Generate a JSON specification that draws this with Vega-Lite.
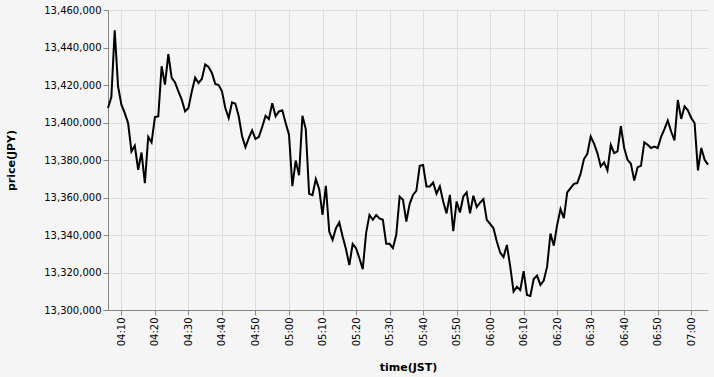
{
  "$schema": "https://vega.github.io/schema/vega-lite/v6.json",
  "width": 600,
  "height": 300,
  "background": "#f5f5f5",
  "padding": {"left": 5, "top": 5, "right": 7, "bottom": 5},
  "config": {"view": {"stroke": null}, "font": "DejaVu Sans"},
  "data": {"values": [
    {"t": "2024-01-01T04:06:00", "price": 13407750},
    {"t": "2024-01-01T04:07:00", "price": 13413600},
    {"t": "2024-01-01T04:08:00", "price": 13449200},
    {"t": "2024-01-01T04:09:00", "price": 13419300},
    {"t": "2024-01-01T04:10:00", "price": 13409500},
    {"t": "2024-01-01T04:11:00", "price": 13405000},
    {"t": "2024-01-01T04:12:00", "price": 13399700},
    {"t": "2024-01-01T04:13:00", "price": 13384600},
    {"t": "2024-01-01T04:14:00", "price": 13387600},
    {"t": "2024-01-01T04:15:00", "price": 13374800},
    {"t": "2024-01-01T04:16:00", "price": 13384000},
    {"t": "2024-01-01T04:17:00", "price": 13367700},
    {"t": "2024-01-01T04:18:00", "price": 13392300},
    {"t": "2024-01-01T04:19:00", "price": 13389400},
    {"t": "2024-01-01T04:20:00", "price": 13402900},
    {"t": "2024-01-01T04:21:00", "price": 13403300},
    {"t": "2024-01-01T04:22:00", "price": 13430000},
    {"t": "2024-01-01T04:23:00", "price": 13420200},
    {"t": "2024-01-01T04:24:00", "price": 13436500},
    {"t": "2024-01-01T04:25:00", "price": 13423800},
    {"t": "2024-01-01T04:26:00", "price": 13421400},
    {"t": "2024-01-01T04:27:00", "price": 13416600},
    {"t": "2024-01-01T04:28:00", "price": 13412200},
    {"t": "2024-01-01T04:29:00", "price": 13405900},
    {"t": "2024-01-01T04:30:00", "price": 13407700},
    {"t": "2024-01-01T04:31:00", "price": 13416500},
    {"t": "2024-01-01T04:32:00", "price": 13424000},
    {"t": "2024-01-01T04:33:00", "price": 13421100},
    {"t": "2024-01-01T04:34:00", "price": 13423200},
    {"t": "2024-01-01T04:35:00", "price": 13430900},
    {"t": "2024-01-01T04:36:00", "price": 13429600},
    {"t": "2024-01-01T04:37:00", "price": 13426400},
    {"t": "2024-01-01T04:38:00", "price": 13420600},
    {"t": "2024-01-01T04:39:00", "price": 13420000},
    {"t": "2024-01-01T04:40:00", "price": 13416600},
    {"t": "2024-01-01T04:41:00", "price": 13407700},
    {"t": "2024-01-01T04:42:00", "price": 13402400},
    {"t": "2024-01-01T04:43:00", "price": 13410700},
    {"t": "2024-01-01T04:44:00", "price": 13410000},
    {"t": "2024-01-01T04:45:00", "price": 13403300},
    {"t": "2024-01-01T04:46:00", "price": 13392600},
    {"t": "2024-01-01T04:47:00", "price": 13386900},
    {"t": "2024-01-01T04:48:00", "price": 13391700},
    {"t": "2024-01-01T04:49:00", "price": 13395800},
    {"t": "2024-01-01T04:50:00", "price": 13391200},
    {"t": "2024-01-01T04:51:00", "price": 13392300},
    {"t": "2024-01-01T04:52:00", "price": 13397600},
    {"t": "2024-01-01T04:53:00", "price": 13403600},
    {"t": "2024-01-01T04:54:00", "price": 13401900},
    {"t": "2024-01-01T04:55:00", "price": 13410300},
    {"t": "2024-01-01T04:56:00", "price": 13403300},
    {"t": "2024-01-01T04:57:00", "price": 13405900},
    {"t": "2024-01-01T04:58:00", "price": 13406500},
    {"t": "2024-01-01T04:59:00", "price": 13399700},
    {"t": "2024-01-01T05:00:00", "price": 13393500},
    {"t": "2024-01-01T05:01:00", "price": 13366100},
    {"t": "2024-01-01T05:02:00", "price": 13379700},
    {"t": "2024-01-01T05:03:00", "price": 13371900},
    {"t": "2024-01-01T05:04:00", "price": 13403600},
    {"t": "2024-01-01T05:05:00", "price": 13396500},
    {"t": "2024-01-01T05:06:00", "price": 13362000},
    {"t": "2024-01-01T05:07:00", "price": 13361300},
    {"t": "2024-01-01T05:08:00", "price": 13369800},
    {"t": "2024-01-01T05:09:00", "price": 13364500},
    {"t": "2024-01-01T05:10:00", "price": 13350700},
    {"t": "2024-01-01T05:11:00", "price": 13366200},
    {"t": "2024-01-01T05:12:00", "price": 13341800},
    {"t": "2024-01-01T05:13:00", "price": 13337400},
    {"t": "2024-01-01T05:14:00", "price": 13343600},
    {"t": "2024-01-01T05:15:00", "price": 13346700},
    {"t": "2024-01-01T05:16:00", "price": 13339200},
    {"t": "2024-01-01T05:17:00", "price": 13332400},
    {"t": "2024-01-01T05:18:00", "price": 13324000},
    {"t": "2024-01-01T05:19:00", "price": 13335300},
    {"t": "2024-01-01T05:20:00", "price": 13333000},
    {"t": "2024-01-01T05:21:00", "price": 13327600},
    {"t": "2024-01-01T05:22:00", "price": 13321800},
    {"t": "2024-01-01T05:23:00", "price": 13341000},
    {"t": "2024-01-01T05:24:00", "price": 13350700},
    {"t": "2024-01-01T05:25:00", "price": 13348100},
    {"t": "2024-01-01T05:26:00", "price": 13350600},
    {"t": "2024-01-01T05:27:00", "price": 13348800},
    {"t": "2024-01-01T05:28:00", "price": 13348100},
    {"t": "2024-01-01T05:29:00", "price": 13335300},
    {"t": "2024-01-01T05:30:00", "price": 13335300},
    {"t": "2024-01-01T05:31:00", "price": 13333000},
    {"t": "2024-01-01T05:32:00", "price": 13340100},
    {"t": "2024-01-01T05:33:00", "price": 13360500},
    {"t": "2024-01-01T05:34:00", "price": 13358800},
    {"t": "2024-01-01T05:35:00", "price": 13347200},
    {"t": "2024-01-01T05:36:00", "price": 13356600},
    {"t": "2024-01-01T05:37:00", "price": 13361400},
    {"t": "2024-01-01T05:38:00", "price": 13363700},
    {"t": "2024-01-01T05:39:00", "price": 13376900},
    {"t": "2024-01-01T05:40:00", "price": 13377300},
    {"t": "2024-01-01T05:41:00", "price": 13365900},
    {"t": "2024-01-01T05:42:00", "price": 13365900},
    {"t": "2024-01-01T05:43:00", "price": 13368000},
    {"t": "2024-01-01T05:44:00", "price": 13362000},
    {"t": "2024-01-01T05:45:00", "price": 13365900},
    {"t": "2024-01-01T05:46:00", "price": 13357900},
    {"t": "2024-01-01T05:47:00", "price": 13351500},
    {"t": "2024-01-01T05:48:00", "price": 13361400},
    {"t": "2024-01-01T05:49:00", "price": 13342000},
    {"t": "2024-01-01T05:50:00", "price": 13357900},
    {"t": "2024-01-01T05:51:00", "price": 13352000},
    {"t": "2024-01-01T05:52:00", "price": 13360500},
    {"t": "2024-01-01T05:53:00", "price": 13362700},
    {"t": "2024-01-01T05:54:00", "price": 13351600},
    {"t": "2024-01-01T05:55:00", "price": 13360900},
    {"t": "2024-01-01T05:56:00", "price": 13354900},
    {"t": "2024-01-01T05:57:00", "price": 13357300},
    {"t": "2024-01-01T05:58:00", "price": 13359100},
    {"t": "2024-01-01T05:59:00", "price": 13348100},
    {"t": "2024-01-01T06:00:00", "price": 13345900},
    {"t": "2024-01-01T06:01:00", "price": 13343600},
    {"t": "2024-01-01T06:02:00", "price": 13336500},
    {"t": "2024-01-01T06:03:00", "price": 13330600},
    {"t": "2024-01-01T06:04:00", "price": 13328200},
    {"t": "2024-01-01T06:05:00", "price": 13334700},
    {"t": "2024-01-01T06:06:00", "price": 13323100},
    {"t": "2024-01-01T06:07:00", "price": 13309800},
    {"t": "2024-01-01T06:08:00", "price": 13312400},
    {"t": "2024-01-01T06:09:00", "price": 13310700},
    {"t": "2024-01-01T06:10:00", "price": 13320700},
    {"t": "2024-01-01T06:11:00", "price": 13308000},
    {"t": "2024-01-01T06:12:00", "price": 13307500},
    {"t": "2024-01-01T06:13:00", "price": 13316500},
    {"t": "2024-01-01T06:14:00", "price": 13318300},
    {"t": "2024-01-01T06:15:00", "price": 13313400},
    {"t": "2024-01-01T06:16:00", "price": 13315700},
    {"t": "2024-01-01T06:17:00", "price": 13323100},
    {"t": "2024-01-01T06:18:00", "price": 13340800},
    {"t": "2024-01-01T06:19:00", "price": 13334300},
    {"t": "2024-01-01T06:20:00", "price": 13345400},
    {"t": "2024-01-01T06:21:00", "price": 13353800},
    {"t": "2024-01-01T06:22:00", "price": 13349000},
    {"t": "2024-01-01T06:23:00", "price": 13362700},
    {"t": "2024-01-01T06:24:00", "price": 13365000},
    {"t": "2024-01-01T06:25:00", "price": 13367300},
    {"t": "2024-01-01T06:26:00", "price": 13367700},
    {"t": "2024-01-01T06:27:00", "price": 13372700},
    {"t": "2024-01-01T06:28:00", "price": 13380500},
    {"t": "2024-01-01T06:29:00", "price": 13383300},
    {"t": "2024-01-01T06:30:00", "price": 13392500},
    {"t": "2024-01-01T06:31:00", "price": 13388700},
    {"t": "2024-01-01T06:32:00", "price": 13383700},
    {"t": "2024-01-01T06:33:00", "price": 13376600},
    {"t": "2024-01-01T06:34:00", "price": 13378700},
    {"t": "2024-01-01T06:35:00", "price": 13374400},
    {"t": "2024-01-01T06:36:00", "price": 13388100},
    {"t": "2024-01-01T06:37:00", "price": 13383700},
    {"t": "2024-01-01T06:38:00", "price": 13384600},
    {"t": "2024-01-01T06:39:00", "price": 13398000},
    {"t": "2024-01-01T06:40:00", "price": 13386400},
    {"t": "2024-01-01T06:41:00", "price": 13380100},
    {"t": "2024-01-01T06:42:00", "price": 13378000},
    {"t": "2024-01-01T06:43:00", "price": 13369000},
    {"t": "2024-01-01T06:44:00", "price": 13376200},
    {"t": "2024-01-01T06:45:00", "price": 13376900},
    {"t": "2024-01-01T06:46:00", "price": 13389400},
    {"t": "2024-01-01T06:47:00", "price": 13388100},
    {"t": "2024-01-01T06:48:00", "price": 13386400},
    {"t": "2024-01-01T06:49:00", "price": 13387200},
    {"t": "2024-01-01T06:50:00", "price": 13386400},
    {"t": "2024-01-01T06:51:00", "price": 13392300},
    {"t": "2024-01-01T06:52:00", "price": 13396500},
    {"t": "2024-01-01T06:53:00", "price": 13401100},
    {"t": "2024-01-01T06:54:00", "price": 13395200},
    {"t": "2024-01-01T06:55:00", "price": 13390500},
    {"t": "2024-01-01T06:56:00", "price": 13412000},
    {"t": "2024-01-01T06:57:00", "price": 13401900},
    {"t": "2024-01-01T06:58:00", "price": 13408600},
    {"t": "2024-01-01T06:59:00", "price": 13406500},
    {"t": "2024-01-01T07:00:00", "price": 13402400},
    {"t": "2024-01-01T07:01:00", "price": 13399700},
    {"t": "2024-01-01T07:02:00", "price": 13374500},
    {"t": "2024-01-01T07:03:00", "price": 13386400},
    {"t": "2024-01-01T07:04:00", "price": 13380100},
    {"t": "2024-01-01T07:05:00", "price": 13377500}
  ]},
  "mark": {"type": "line", "color": "black", "strokeWidth": 2},
  "encoding": {
    "x": {
      "field": "t",
      "type": "temporal",
      "title": "time(JST)",
      "axis": {
        "format": "%H:%M",
        "labelAngle": -90,
        "titlePadding": 16,
        "values": [
          {"year": 2024, "month": 1, "date": 1, "hours": 4, "minutes": 10},
          {"year": 2024, "month": 1, "date": 1, "hours": 4, "minutes": 20},
          {"year": 2024, "month": 1, "date": 1, "hours": 4, "minutes": 30},
          {"year": 2024, "month": 1, "date": 1, "hours": 4, "minutes": 40},
          {"year": 2024, "month": 1, "date": 1, "hours": 4, "minutes": 50},
          {"year": 2024, "month": 1, "date": 1, "hours": 5, "minutes": 0},
          {"year": 2024, "month": 1, "date": 1, "hours": 5, "minutes": 10},
          {"year": 2024, "month": 1, "date": 1, "hours": 5, "minutes": 20},
          {"year": 2024, "month": 1, "date": 1, "hours": 5, "minutes": 30},
          {"year": 2024, "month": 1, "date": 1, "hours": 5, "minutes": 40},
          {"year": 2024, "month": 1, "date": 1, "hours": 5, "minutes": 50},
          {"year": 2024, "month": 1, "date": 1, "hours": 6, "minutes": 0},
          {"year": 2024, "month": 1, "date": 1, "hours": 6, "minutes": 10},
          {"year": 2024, "month": 1, "date": 1, "hours": 6, "minutes": 20},
          {"year": 2024, "month": 1, "date": 1, "hours": 6, "minutes": 30},
          {"year": 2024, "month": 1, "date": 1, "hours": 6, "minutes": 40},
          {"year": 2024, "month": 1, "date": 1, "hours": 6, "minutes": 50},
          {"year": 2024, "month": 1, "date": 1, "hours": 7, "minutes": 0}
        ]
      }
    },
    "y": {
      "field": "price",
      "type": "quantitative",
      "title": "price(JPY)",
      "scale": {"domain": [13300000, 13460000], "zero": false},
      "axis": {"format": ",.0f", "tickCount": 8, "titlePadding": 27}
    }
  }
}
